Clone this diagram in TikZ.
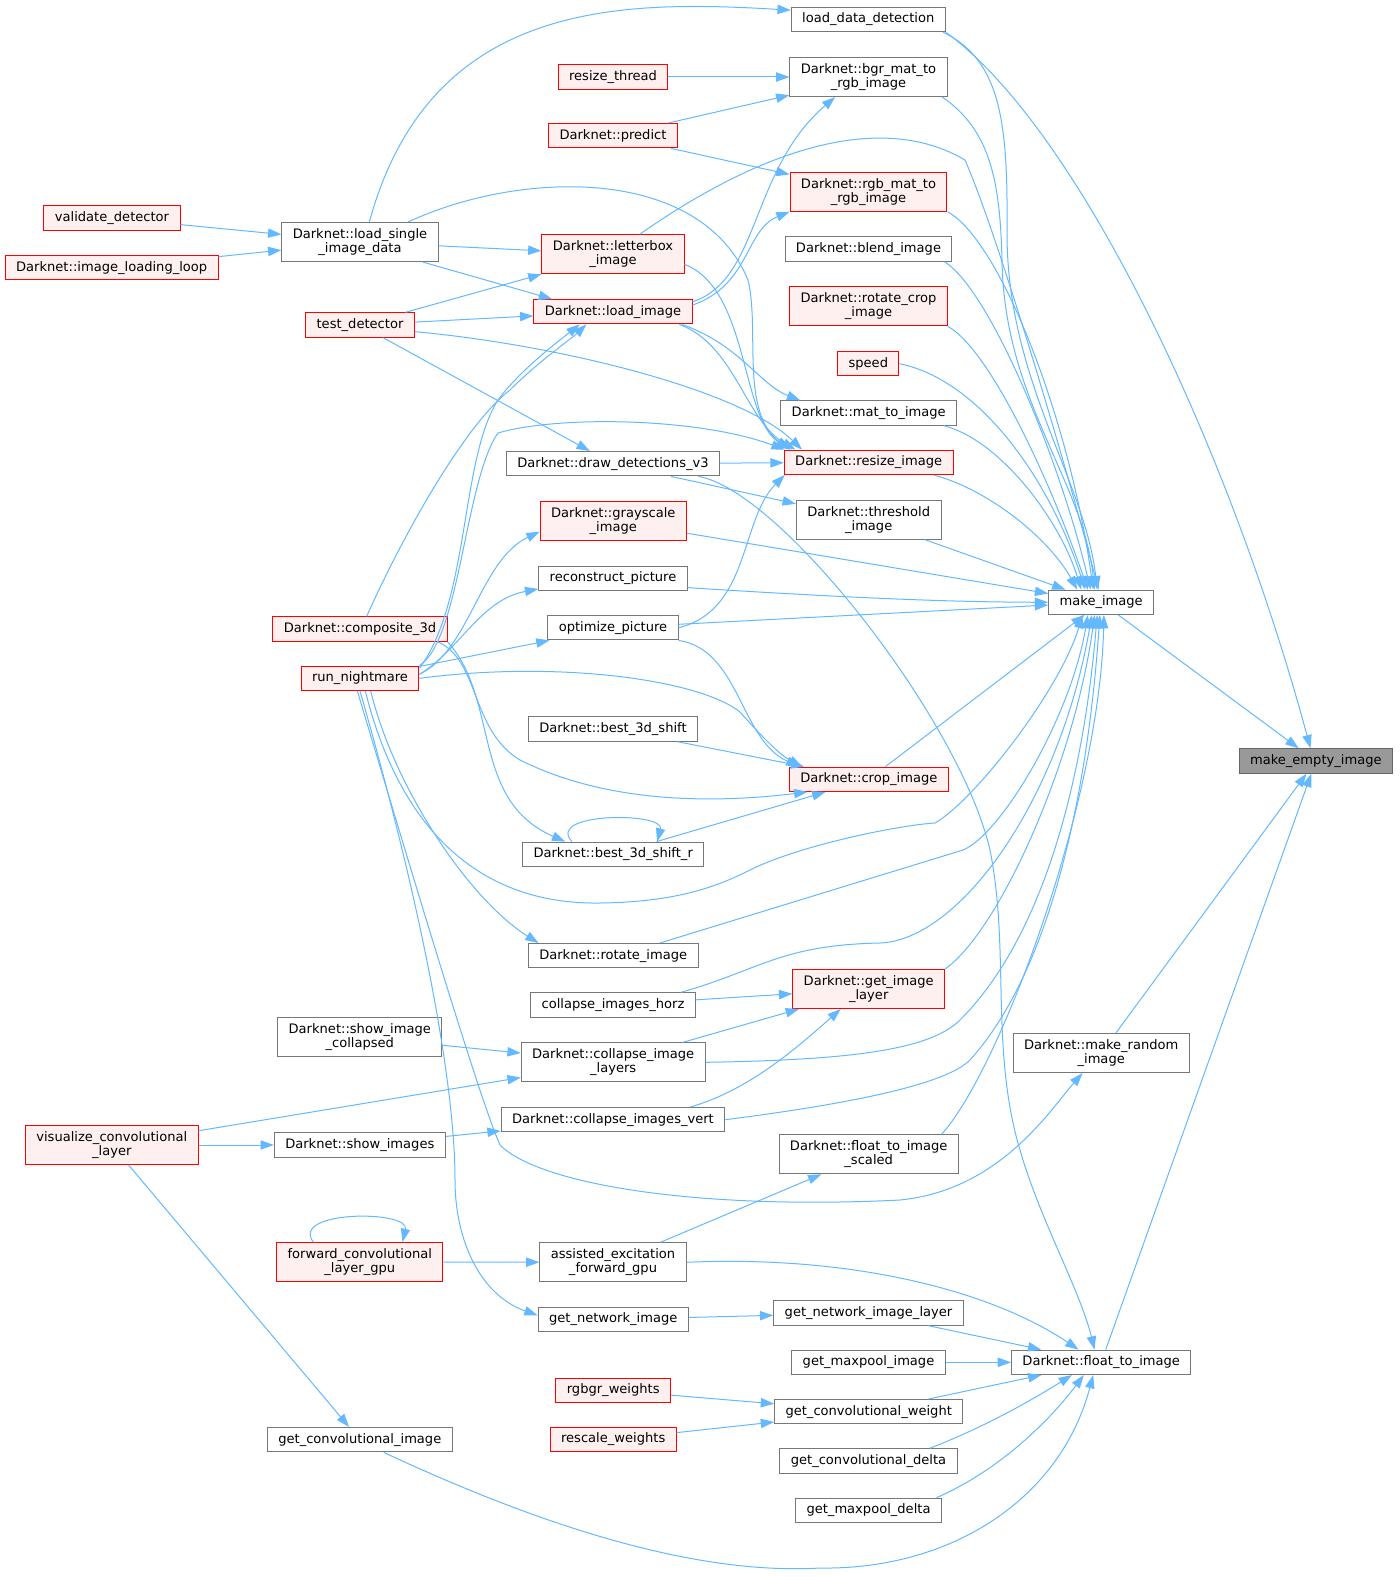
\documentclass[tikz,border=0pt]{standalone}
\usepackage{fontspec}
\setmainfont{DejaVu Sans}
\usetikzlibrary{arrows.meta}
\definecolor{edgeblue}{HTML}{63B8FF}
\definecolor{boxgray}{HTML}{777777}
\definecolor{hotfill}{HTML}{FFF0F0}
\definecolor{mainfill}{HTML}{999999}
\definecolor{mainline}{HTML}{666666}

\begin{document}
\begin{tikzpicture}
  [x=0.75pt,y=-0.75pt,->,>={Triangle[length=10pt,width=7pt]},
   every node/.style={rectangle,draw=boxgray,fill=white,line width=0.75pt,
     font=\fontsize{9.8pt}{10.5pt}\selectfont,inner xsep=8.2pt,inner ysep=0pt,
     minimum height=18.3pt,text height=7.4pt,text depth=2.4pt},
   hot/.style={draw=red,fill=hotfill},
   two/.style={align=center,text height={},text depth={},minimum height=29.25pt},
   call/.style={color=edgeblue,line width=0.75pt}]
  \useasboundingbox (0,0) rectangle (1399,1577);

  % right column
  \node (mei) [style={draw=mainline,fill=mainfill}] at (1315.8,761) {make\_empty\_image};
  \node (mi) at (1101.2,602.3) {make\_image};
  \node (randimg) [two] at (1101.2,1053) {Darknet::make\_random\\\_image};
  \node (fti) at (1101.2,1362.3) {Darknet::float\_to\_image};

  % callers of make_image
  \node (ldd) at (868.3,19.5) {load\_data\_detection};
  \node (bgr) [two] at (868.5,77) {Darknet::bgr\_mat\_to\\\_rgb\_image};
  \node (rgb) [hot,two] at (868.5,191.7) {Darknet::rgb\_mat\_to\\\_rgb\_image};
  \node (blend) at (868.5,249) {Darknet::blend\_image};
  \node (rotcrop) [hot,two] at (868.5,306.3) {Darknet::rotate\_crop\\\_image};
  \node (speed) [hot] at (868.3,363.7) {speed};
  \node (mat) at (868.7,413) {Darknet::mat\_to\_image};
  \node (resize) [hot] at (868.7,462.3) {Darknet::resize\_image};
  \node (thresh) [two] at (868.7,519.7) {Darknet::threshold\\\_image};
  \node (crop) [hot] at (868.8,779.3) {Darknet::crop\_image};
  \node (layer) [hot,two] at (868.7,989) {Darknet::get\_image\\\_layer};
  \node (ftis) [two] at (868.7,1154.3) {Darknet::float\_to\_image\\\_scaled};
  \node (netlayer) at (868.5,1313) {get\_network\_image\_layer};
  \node (mpimg) at (868.5,1362.3) {get\_maxpool\_image};
  \node (convw) at (868.7,1411.7) {get\_convolutional\_weight};
  \node (convd) at (868.5,1461) {get\_convolutional\_delta};
  \node (mpdelta) at (868.5,1510.3) {get\_maxpool\_delta};

  % middle column
  \node (rthread) [hot] at (613,77) {resize\_thread};
  \node (predict) [hot] at (613,135.7) {Darknet::predict};
  \node (letterbox) [hot,two] at (613,254.3) {Darknet::letterbox\\\_image};
  \node (loadimg) [hot] at (613,311.7) {Darknet::load\_image};
  \node (drawdet) at (613,463.7) {Darknet::draw\_detections\_v3};
  \node (gray) [hot,two] at (613.3,521) {Darknet::grayscale\\\_image};
  \node (recon) at (613,578.3) {reconstruct\_picture};
  \node (optim) at (613,627.7) {optimize\_picture};
  \node (b3d) at (613,729) {Darknet::best\_3d\_shift};
  \node (b3dr) at (613.2,854.3) {Darknet::best\_3d\_shift\_r};
  \node (rotimg) at (613.2,955.7) {Darknet::rotate\_image};
  \node (colhorz) at (613,1005) {collapse\_images\_horz};
  \node (collayers) [two] at (613.2,1062.3) {Darknet::collapse\_image\\\_layers};
  \node (colvert) at (613,1119.7) {Darknet::collapse\_images\_vert};
  \node (assisted) [two] at (613,1262.3) {assisted\_excitation\\\_forward\_gpu};
  \node (netimg) at (613.2,1319.3) {get\_network\_image};
  \node (rgbgr) [hot] at (613.2,1390.3) {rgbgr\_weights};
  \node (rescale) [hot] at (613.2,1439.5) {rescale\_weights};

  % left columns
  \node (valdet) [hot] at (112,218) {validate\_detector};
  \node (imgloop) [hot] at (111.7,267.7) {Darknet::image\_loading\_loop};
  \node (lsid) [two] at (360,242) {Darknet::load\_single\\\_image\_data};
  \node (testdet) [hot] at (360,325) {test\_detector};
  \node (comp) [hot] at (360,629) {Darknet::composite\_3d};
  \node (nightmare) [hot] at (360,678.3) {run\_nightmare};
  \node (showcol) [two] at (359.8,1037) {Darknet::show\_image\\\_collapsed};
  \node (visconv) [hot,two] at (111.8,1145) {visualize\_convolutional\\\_layer};
  \node (showimgs) at (359.8,1145) {Darknet::show\_images};
  \node (fwdconv) [hot,two] at (359.8,1262) {forward\_convolutional\\\_layer\_gpu};
  \node (convimg) at (359.8,1439.7) {get\_convolutional\_image};

  % straight calls
  \path[call]
  (mi) edge (mei)
  (randimg) edge (mei)
  (fti) edge (mei)
  (rthread) edge (bgr)
  (predict) edge (bgr)
  (predict) edge (rgb)
  (valdet) edge (lsid)
  (imgloop) edge (lsid)
  (lsid) edge (letterbox)
  ([xshift=-12pt]lsid.south east) edge ([xshift=14pt]loadimg.north west)
  (testdet) edge (letterbox)
  (testdet) edge (loadimg)
  (testdet) edge (drawdet)
  (drawdet) edge (resize)
  (drawdet) edge (thresh)
  (thresh) edge (mi)
  (gray) edge (mi)
  (optim) edge (mi)
  (crop) edge (mi)
  (b3d) edge (crop)
  (b3dr) edge (crop)
  (nightmare) edge (optim)
  (colhorz) edge (layer)
  (collayers) edge (layer)
  (showcol) edge (collayers)
  (visconv) edge (collayers)
  (visconv) edge (showimgs)
  (showimgs) edge (colvert)
  (visconv) edge (convimg)
  (fwdconv) edge (assisted)
  (assisted) edge (ftis)
  (netimg) edge (netlayer)
  (netlayer) edge (fti)
  (mpimg) edge (fti)
  (rgbgr) edge (convw)
  (rescale) edge (convw)
  (convw) edge (fti);

  % curved calls, top half
  \draw[call] (ldd.south east) .. controls (1080,130) and (1230,450) .. ([xshift=-4pt]mei.north);
  \draw[call] ([xshift=7pt]lsid.north) .. controls (430,0) and (620,0) .. ([yshift=7pt]ldd.west);
  \draw[call] ([xshift=-2pt]ldd.south east) .. controls (1000,60) and (1008,120) .. (1007,230) .. controls (1006,380) and (1085,480) .. ([xshift=-3pt]mi.north);
  \draw[call] ([xshift=-4pt]bgr.south east) .. controls (990,130) and (1000,180) .. (1002,260) .. controls (1004,400) and (1083,480) .. ([xshift=-5pt]mi.north);
  \draw[call] (rgb.south east) .. controls (1000,240) and (1070,420) .. ([xshift=-6pt]mi.north);
  \draw[call] ([xshift=-6pt]blend.south east) .. controls (990,290) and (1060,460) .. ([xshift=-8pt]mi.north);
  \draw[call] (rotcrop.south east) .. controls (990,350) and (1050,480) .. ([xshift=-10pt]mi.north);
  \draw[call] (speed.east) .. controls (980,380) and (1050,480) .. ([xshift=-12pt]mi.north);
  \draw[call] ([xshift=-10pt]mat.south east) .. controls (1000,440) and (1060,520) .. ([xshift=-15pt]mi.north);
  \draw[call] ([xshift=-15pt]resize.south east) .. controls (990,490) and (1050,540) .. ([xshift=-18pt]mi.north);
  \draw[call] ([xshift=20pt]letterbox.north) .. controls (760,150) and (880,110) .. (965,160) .. controls (1000,240) and (1070,480) .. ([xshift=-2pt]mi.north);
  \draw[call] ([yshift=-7pt]recon.east) .. controls (850,598) and (950,602) .. (mi.west);

  \draw[call] ([yshift=7.5pt]loadimg.east) .. controls (760,280) and (750,170) .. ([xshift=-25pt]bgr.south);
  \draw[call] ([yshift=5pt]loadimg.east) .. controls (750,285) and (745,230) .. (rgb.south west);
  \draw[call] ([xshift=-10pt]loadimg.south east) .. controls (735,345) and (745,420) .. ([xshift=-55pt]resize.north);
  \draw[call] ([xshift=-8pt]loadimg.south east) .. controls (740,345) and (760,385) .. ([xshift=15pt]mat.north west);

  \draw[call] ([xshift=36pt]lsid.north) .. controls (520,170) and (700,165) .. (748,280) .. controls (760,330) and (740,410) .. ([xshift=-60pt]resize.north);
  \draw[call] ([yshift=-7.5pt]letterbox.east) .. controls (750,290) and (740,420) .. ([xshift=-58pt]resize.north);
  \draw[call] ([yshift=-5pt]testdet.east) .. controls (560,345) and (740,390) .. ([xshift=-50pt]resize.north);
  \draw[call] (nightmare.north east) .. controls (460,640) and (465,480) .. (498,433) .. controls (560,415) and (700,418) .. ([xshift=-63pt]resize.north);
  \draw[call] (optim.east) .. controls (750,610) and (740,520) .. ([xshift=-63pt]resize.south);

  \draw[call] ([yshift=-2pt]nightmare.north east) .. controls (470,600) and (460,460) .. (498,400) .. controls (520,370) and (560,340) .. ([xshift=-25pt]loadimg.south);
  \draw[call] ([xshift=5pt]comp.north) .. controls (410,520) and (470,420) .. (510,390) .. controls (540,360) and (570,340) .. ([xshift=-20pt]loadimg.south);
  \draw[call] ([yshift=3pt]nightmare.east) .. controls (470,650) and (480,560) .. ([yshift=-8pt]gray.west);
  \draw[call] ([yshift=3pt]nightmare.east) .. controls (460,650) and (480,600) .. ([yshift=-8pt]recon.west);
  \draw[call] (nightmare.east) .. controls (560,660) and (700,680) .. (740,712) .. controls (765,740) and (780,755) .. ([xshift=-50pt]crop.north);
  \draw[call] (optim.south east) .. controls (740,650) and (740,740) .. ([xshift=-52pt]crop.north);

  % composite and shifts
  \draw[call] ([xshift=-7.5pt]comp.south east) .. controls (480,660) and (470,730) .. (520,760) .. controls (600,800) and (700,805) .. ([xshift=-46pt]crop.south);
  \draw[call] (comp.south east) .. controls (500,700) and (470,800) .. ([xshift=-36pt]b3dr.north);
  \draw[call] ([xshift=-31pt]b3dr.north) .. controls (545,812) and (665,812) .. ([xshift=33pt]b3dr.north);

  % long calls from run_nightmare
  \draw[call] ([xshift=4pt]nightmare.south) .. controls (400,830) and (480,905) .. (600,903) .. controls (680,902) and (720,885) .. (750,870) .. controls (800,845) and (900,825) .. (935,823) .. controls (975,800) and (1060,690) .. ([xshift=-14pt]mi.south);
  \draw[call] ([xshift=8pt]nightmare.south) .. controls (395,790) and (470,900) .. ([xshift=-56pt]rotimg.north);
  \draw[call] ([xshift=-2pt]nightmare.south) .. controls (420,900) and (480,1100) .. (500,1145) .. controls (540,1185) and (700,1210) .. (900,1200) .. controls (1000,1190) and (1050,1110) .. ([xshift=-14pt]randimg.south);
  \draw[call] (nightmare.south) .. controls (420,900) and (455,1080) .. (455,1180) .. controls (455,1240) and (480,1295) .. ([yshift=3pt]netimg.west);

  % into make_image from below
  \draw[call] ([xshift=35pt]rotimg.north) -- (963,850) .. controls (1000,835) and (1070,720) .. ([xshift=-10pt]mi.south);
  \draw[call] ([xshift=51pt]colhorz.north) .. controls (760,970) and (780,945) .. (880,943) .. controls (960,940) and (1060,800) .. ([xshift=-7pt]mi.south);
  \draw[call] (layer.north east) .. controls (1000,930) and (1075,760) .. ([xshift=-5pt]mi.south);
  \draw[call] (collayers.east) .. controls (850,1060) and (930,1050) .. (960,1020) .. controls (1050,930) and (1085,760) .. ([xshift=-3pt]mi.south);
  \draw[call] (colvert.east) .. controls (880,1100) and (950,1080) .. (970,1060) .. controls (1060,960) and (1090,760) .. ([xshift=-1pt]mi.south);
  \draw[call] ([xshift=-13pt]ftis.north east) .. controls (1000,1070) and (1100,800) .. ([xshift=2pt]mi.south);

  \draw[call] ([xshift=64pt]drawdet.south) .. controls (780,490) and (960,720) .. (990,850) .. controls (1010,950) and (990,1050) .. (1020,1150) .. controls (1040,1220) and (1080,1290) .. ([xshift=-5pt]fti.north);

  % lower part
  \draw[call] ([xshift=58pt]colvert.north) .. controls (750,1090) and (800,1045) .. ([xshift=-21pt]layer.south);
  \draw[call] ([xshift=-35pt]fwdconv.north) .. controls (290,1210) and (410,1210) .. ([xshift=32pt]fwdconv.north);
  \draw[call] (assisted.east) .. controls (850,1255) and (990,1290) .. ([xshift=-17pt]fti.north);
  \draw[call] ([xshift=18pt]convimg.south) .. controls (550,1530) and (700,1575) .. (820,1568) .. controls (950,1570) and (1060,1500) .. ([xshift=-6pt]fti.south);
  \draw[call] ([xshift=-21pt]convd.north east) .. controls (990,1425) and (1040,1395) .. ([xshift=-22pt]fti.south);
  \draw[call] ([xshift=-4pt]mpdelta.north east) .. controls (1000,1470) and (1050,1420) .. ([xshift=-13pt]fti.south);
\end{tikzpicture}
\end{document}
